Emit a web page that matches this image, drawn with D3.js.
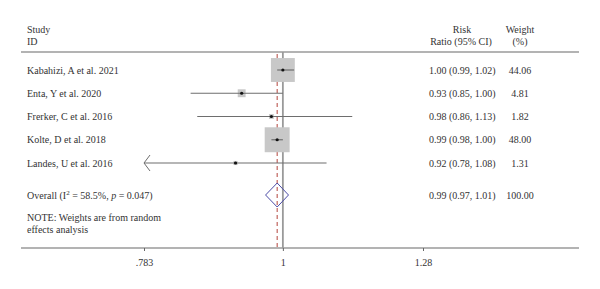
<!DOCTYPE html>
<html>
<head>
<meta charset="utf-8">
<script src="https://cdn.jsdelivr.net/npm/d3@7"></script>
<style>
  body { margin: 0; background: #fff; }
  svg text { font-family: "Liberation Serif", "Times New Roman", serif; font-size: 10px; fill: #333; }
</style>
</head>
<body>
<div id="chart"></div>
<script>
// Study data
const studies = ["Kabahizi, A et al. 2021", "Enta, Y et al. 2020", "Frerker, C et al. 2016", "Kolte, D et al. 2018", "Landes, U et al. 2016"];
const rr = [1.00, 0.93, 0.98, 0.99, 0.92];
const lower = [0.99, 0.85, 0.86, 0.98, 0.78];
const upper = [1.02, 1.00, 1.13, 1.00, 1.08];
const weights = ["44.06", "4.81", "1.82", "48.00", "1.31"];

const overall = { rr: 0.99, lo: 0.97, hi: 1.01, weight: "100.00" };
const tickValues = [0.783, 1, 1.28];
const tickLabels = [".783", "1", "1.28"];

const width = 600;
const height = 289;

const x = d3.scaleLog()
  .domain([0.783, 1.28])
  .range([144, 423]);

// row positions
const y = d3.scalePoint()
  .domain(d3.range(studies.length))
  .range([70, 163]);

const yOverall = 195;
const topLine = 52;
const axisY = 248;

const svg = d3.select("#chart")
  .append("svg")
  .attr("width", width)
  .attr("height", height);

// headers
svg.append("text").attr("x", 27).attr("y", 33).text("Study");
svg.append("text").attr("x", 27).attr("y", 45).text("ID");
svg.append("text").attr("x", 462).attr("y", 33).attr("text-anchor", "middle").text("Risk");
svg.append("text").attr("x", 461).attr("y", 45).attr("text-anchor", "middle").text("Ratio (95% CI)");
svg.append("text").attr("x", 520).attr("y", 33).attr("text-anchor", "middle").text("Weight");
svg.append("text").attr("x", 520).attr("y", 45).attr("text-anchor", "middle").text("(%)");

// top separator
svg.append("line")
  .attr("x1", 21).attr("x2", 579)
  .attr("y1", topLine).attr("y2", topLine)
  .attr("stroke", "#9a9a9a").attr("stroke-width", 1.5);

// null line at 1
svg.append("line")
  .attr("x1", x(1)).attr("x2", x(1))
  .attr("y1", topLine).attr("y2", axisY)
  .attr("stroke", "#9a9a9a").attr("stroke-width", 1.8);

// overall estimate dashed line
svg.append("line")
  .attr("x1", x(overall.rr)).attr("x2", x(overall.rr))
  .attr("y1", topLine + 2).attr("y2", axisY)
  .attr("stroke", "#b4443c").attr("stroke-width", 1)
  .attr("stroke-dasharray", "4,3");

const rows = svg.selectAll(".row")
  .data(d3.range(studies.length))
  .enter()
  .append("g")
  .attr("class", "row");

// weight squares
rows.append("rect")
  .attr("fill", "#c8c8c8")
  .each(function (i) {
    const s = 3.6 * Math.sqrt(+weights[i]);
    d3.select(this)
      .attr("x", x(rr[i]) - s / 2)
      .attr("y", y(i) - s / 2)
      .attr("width", s)
      .attr("height", s);
  });

// confidence intervals (clipped at axis min with arrow)
const xMin = x.domain()[0];
rows.append("line")
  .attr("x1", i => x(Math.max(lower[i], xMin)))
  .attr("x2", i => x(upper[i]))
  .attr("y1", i => y(i))
  .attr("y2", i => y(i))
  .attr("stroke", "#6e6e6e")
  .attr("stroke-width", 1.2);

rows.filter(i => lower[i] < xMin)
  .append("path")
  .attr("d", i => {
    const x0 = x(xMin);
    const yy = y(i);
    return `M${x0 + 6},${yy - 8}L${x0},${yy}L${x0 + 6},${yy + 8}`;
  })
  .attr("fill", "none")
  .attr("stroke", "#6e6e6e")
  .attr("stroke-width", 1);

rows.append("circle")
  .attr("cx", i => x(rr[i]))
  .attr("cy", i => y(i))
  .attr("r", 1.6)
  .attr("fill", "#111");

// labels
rows.append("text")
  .attr("x", 27)
  .attr("y", i => y(i) + 3.5)
  .text(i => studies[i]);

rows.append("text")
  .attr("x", 429)
  .attr("y", i => y(i) + 3.5)
  .text(i => `${rr[i].toFixed(2)} (${lower[i].toFixed(2)}, ${upper[i].toFixed(2)})`);

rows.append("text")
  .attr("x", 520)
  .attr("y", i => y(i) + 3.5)
  .attr("text-anchor", "middle")
  .text(i => weights[i]);

// overall diamond
svg.append("path")
  .attr("d", `M${x(overall.lo)},${yOverall}L${x(overall.rr)},${yOverall - 12}L${x(overall.hi)},${yOverall}L${x(overall.rr)},${yOverall + 12}Z`)
  .attr("fill", "none")
  .attr("stroke", "#4b4ba6")
  .attr("stroke-width", 1);

const ov = svg.append("text").attr("x", 27).attr("y", yOverall + 3.5);
ov.append("tspan").text("Overall (I");
ov.append("tspan").attr("dy", -4).attr("font-size", "7px").text("2");
ov.append("tspan").attr("dy", 4).text(" = 58.5%, ");
ov.append("tspan").attr("font-style", "italic").text("p");
ov.append("tspan").text(" = 0.047)");

svg.append("text").attr("x", 429).attr("y", yOverall + 3.5)
  .text(`${overall.rr.toFixed(2)} (${overall.lo.toFixed(2)}, ${overall.hi.toFixed(2)})`);
svg.append("text").attr("x", 520).attr("y", yOverall + 3.5)
  .attr("text-anchor", "middle").text(overall.weight);

svg.append("text").attr("x", 27).attr("y", 221).text("NOTE: Weights are from random");
svg.append("text").attr("x", 27).attr("y", 233).text("effects analysis");

// bottom axis
svg.append("line")
  .attr("x1", 21).attr("x2", 579)
  .attr("y1", axisY).attr("y2", axisY)
  .attr("stroke", "#9a9a9a").attr("stroke-width", 1.5);

const axis = d3.axisBottom(x)
  .tickValues(tickValues)
  .tickFormat((d, i) => tickLabels[i])
  .tickSize(3)
  .tickPadding(8);

const gAxis = svg.append("g")
  .attr("transform", `translate(0, ${axisY})`)
  .call(axis);

gAxis.select(".domain").remove();
gAxis.selectAll(".tick line").attr("stroke", "#666");
gAxis.selectAll(".tick text")
  .attr("fill", "#333")
  .style("font-family", "'Liberation Serif', serif")
  .style("font-size", "10px");
</script>
</body>
</html>
